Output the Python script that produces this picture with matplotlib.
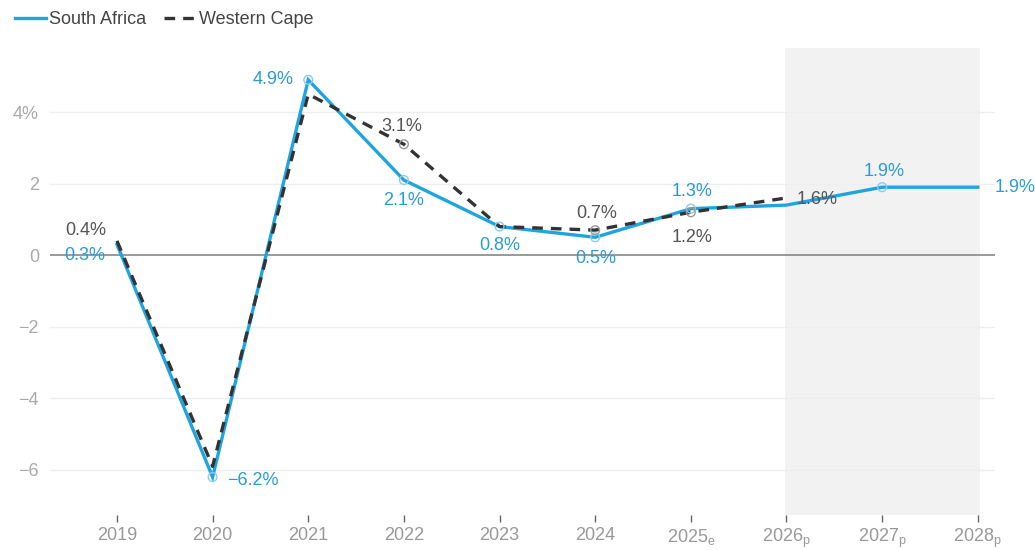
import matplotlib
matplotlib.use("Agg")
import matplotlib.pyplot as plt
import numpy as np

plt.rcParams['font.family'] = ['Liberation Sans', 'DejaVu Sans']

years = [2019, 2020, 2021, 2022, 2023, 2024, 2025, 2026, 2027, 2028]
year_labels = ["2019", "2020", "2021", "2022", "2023", "2024",
               "2025$_\\mathregular{e}$", "2026$_\\mathregular{p}$",
               "2027$_\\mathregular{p}$", "2028$_\\mathregular{p}$"]
south_africa = [0.3, -6.2, 4.9, 2.1, 0.8, 0.5, 1.3, 1.4, 1.9, 1.9]
western_cape = [0.4, -5.9, 4.5, 3.1, 0.8, 0.7, 1.2, 1.6, np.nan, np.nan]
y_ticks = [-6, -4, -2, 0, 2, 4]
y_tick_labels = ["\u22126", "\u22124", "\u22122", "0", "2", "4%"]

SA_BLUE = "#1ea5e0"
SA_TEXT = "#2a9bd6"
WC_DARK = "#333333"
WC_TEXT = "#555555"
FS = 13

fig = plt.figure(figsize=(10.35, 5.5), dpi=100)
ax = fig.add_axes([50 / 1035, 1 - 515 / 550, 945 / 1035, 467 / 550])
ax.set_xlim(2018.30, 2028.18)
ax.set_ylim(-7.26, 5.79)

# projection period
ax.axvspan(2025.98, 2028.02, color="#f2f2f2", zorder=0, lw=0)

for t in y_ticks:
    if t == 0:
        ax.axhline(0, color="#888888", lw=1.2, zorder=1)
    else:
        ax.axhline(t, color="#eeeeee", lw=1.0, zorder=1)

sa_line, = ax.plot(years, south_africa, color=SA_BLUE, lw=2.4, zorder=3,
                   solid_joinstyle="miter", label="South Africa")
wc_line, = ax.plot(years, western_cape, color=WC_DARK, lw=2.4, zorder=4,
                   dashes=(3.2, 2.4), label="Western Cape")

sa_marks = [1, 2, 3, 4, 5, 6, 8]
ax.scatter([years[i] for i in sa_marks], [south_africa[i] for i in sa_marks],
           s=40, facecolors="none", edgecolors="#8fcbea", lw=1.0, zorder=5)
wc_marks = [3, 5, 6]
ax.scatter([years[i] for i in wc_marks], [western_cape[i] for i in wc_marks],
           s=40, facecolors="none", edgecolors="#999999", lw=1.0, zorder=5)

def label(x, y, text, dx, dy, color, ha="center"):
    ax.annotate(text, (x, y), xytext=(dx, dy), textcoords="offset pixels",
                ha=ha, va="center", color=color, fontsize=FS, zorder=6)

sa = dict(zip(years, south_africa))
wc = dict(zip(years, western_cape))
fmt = lambda v: f"{v:.1f}%".replace("-", "\u2212")

label(2019, sa[2019], fmt(sa[2019]), -12, -11, SA_TEXT, ha="right")
label(2019, wc[2019], fmt(wc[2019]), -11, 10, WC_TEXT, ha="right")
label(2020, sa[2020], fmt(sa[2020]), 15, -3, SA_TEXT, ha="left")
label(2021, sa[2021], fmt(sa[2021]), -15, 0, SA_TEXT, ha="right")
label(2022, wc[2022], fmt(wc[2022]), -2, 18, WC_TEXT)
label(2022, sa[2022], fmt(sa[2022]), 0, -20, SA_TEXT)
label(2023, sa[2023], fmt(sa[2023]), 0, -19, SA_TEXT)
label(2024, wc[2024], fmt(wc[2024]), 1, 17, WC_TEXT)
label(2024, sa[2024], fmt(sa[2024]), 1, -21, SA_TEXT)
label(2025, sa[2025], fmt(sa[2025]), 1, 17, SA_TEXT)
label(2025, wc[2025], fmt(wc[2025]), 1, -25, WC_TEXT)
label(2026, wc[2026], fmt(wc[2026]), 10, -2, WC_TEXT, ha="left")
label(2027, sa[2027], fmt(sa[2027]), 2, 16, SA_TEXT)
label(2028, sa[2028], fmt(sa[2028]), 17, 0, SA_TEXT, ha="left")

for s in ax.spines.values():
    s.set_visible(False)
ax.set_yticks(y_ticks)
ax.set_yticklabels(y_tick_labels)
ax.set_xticks(years)
ax.set_xticklabels(year_labels)
ax.tick_params(axis="y", length=0, pad=8, labelsize=FS, labelcolor="#aaaaaa")
ax.tick_params(axis="x", length=5, width=1, color="#666666", pad=3.5,
               labelsize=FS, labelcolor="#999999", direction="out")

leg = fig.legend(handles=[sa_line, wc_line], loc="upper left",
                 bbox_to_anchor=(0.004, 1.0), ncol=2, frameon=False,
                 fontsize=FS, handlelength=1.7, columnspacing=1.0,
                 handletextpad=0.2, borderaxespad=0.2)
for t in leg.get_texts():
    t.set_color("#444444")

fig.savefig("out.png", dpi=100)
